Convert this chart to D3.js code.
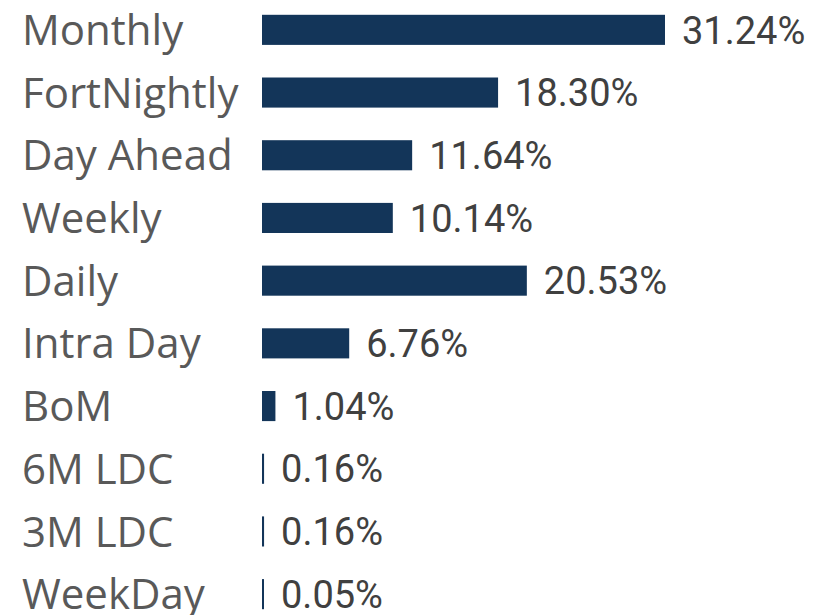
<!DOCTYPE html>
<html>
<head>
<meta charset="utf-8">
<script src="https://cdn.jsdelivr.net/npm/d3@7"></script>
<style>
  body { margin: 0; background: #fff; }
</style>
</head>
<body>
<svg id="chart" width="823" height="615"></svg>
<script>
// categories and share of volume (%)
var categories = ["Monthly", "FortNightly", "Day Ahead", "Weekly", "Daily",
                  "Intra Day", "BoM", "6M LDC", "3M LDC", "WeekDay"];
var shares = [31.24, 18.30, 11.64, 10.14, 20.53, 6.76, 1.04, 0.16, 0.16, 0.05];

var rows = categories.map(function(c, i) { return { name: c, value: shares[i] }; });

var svg = d3.select("#chart");

var x = d3.scaleLinear()
    .domain([0, 31.24])
    .range([262, 665]);

var y = d3.scaleBand()
    .domain(categories)
    .range([-1.5, 625.5])
    .paddingInner(0.52)
    .paddingOuter(0.26);

// category labels
svg.append("g")
    .attr("class", "labels")
    .selectAll("text")
    .data(rows)
    .enter()
    .append("text")
    .attr("x", 22)
    .attr("y", function(d) { return y(d.name) + y.bandwidth() / 2; })
    .attr("dy", "0.36em")
    .attr("font-family", "'Open Sans', sans-serif")
    .attr("font-size", 42)
    .attr("fill", "#595959")
    .text(function(d) { return d.name; });

// bars
svg.append("g")
    .attr("class", "bars")
    .selectAll("rect")
    .data(rows)
    .enter()
    .append("rect")
    .attr("x", x(0))
    .attr("y", function(d) { return y(d.name); })
    .attr("width", function(d) { return Math.max(2, x(d.value) - x(0)); })
    .attr("height", y.bandwidth())
    .attr("fill", "#133559");

// value labels
svg.append("g")
    .attr("class", "values")
    .selectAll("text")
    .data(rows)
    .enter()
    .append("text")
    .attr("x", function(d) { return Math.max(x(0) + 2, x(d.value)) + 17; })
    .attr("y", function(d) { return y(d.name) + y.bandwidth() / 2; })
    .attr("dy", "0.36em")
    .attr("font-family", "Roboto, sans-serif")
    .attr("font-size", 38)
    .attr("fill", "#404040")
    .text(function(d) { return d.value.toFixed(2) + "%"; });
</script>
</body>
</html>
